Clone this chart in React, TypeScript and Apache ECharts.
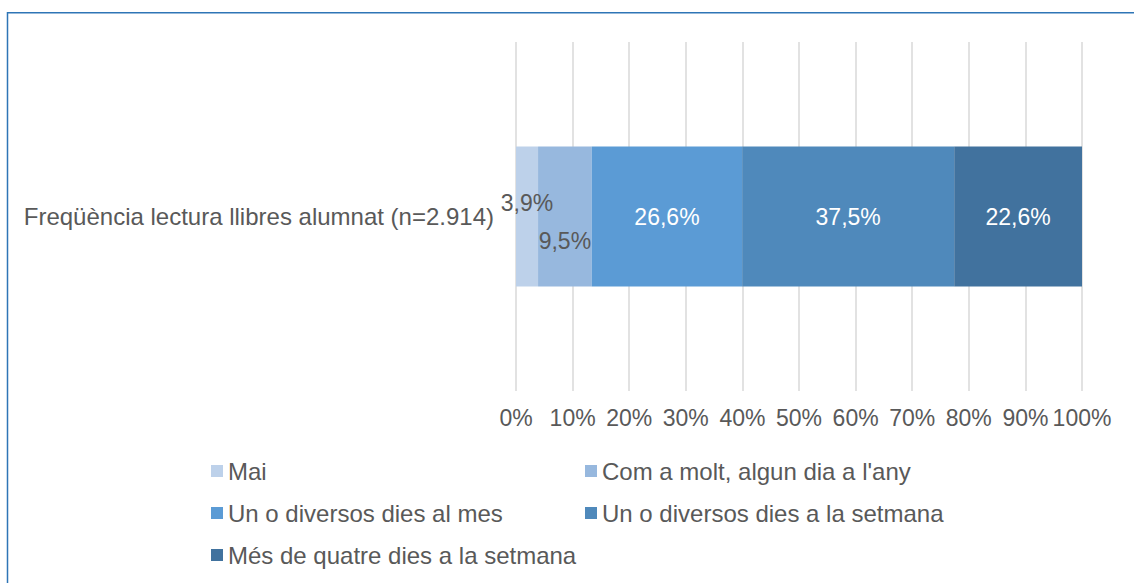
import React, { useEffect, useRef } from "react";
import * as echarts from "echarts";

const categories = ["Freqüència lectura llibres alumnat (n=2.914)"];
const seriesNames = [
  "Mai",
  "Com a molt, algun dia a l'any",
  "Un o diversos dies al mes",
  "Un o diversos dies a la setmana",
  "Més de quatre dies a la setmana",
];
const seriesValues = [3.9, 9.5, 26.6, 37.5, 22.6];

const colors = ["#BDD1EA", "#97B8DE", "#5B9BD5", "#4F89BB", "#41729E"];
const labelColors = ["#595959", "#595959", "#FFFFFF", "#FFFFFF", "#FFFFFF"];
const labelOffsets = [
  [0, -14],
  [0, 24],
  [0, 0],
  [0, 0],
  [0, 0],
];
const legendPos = [
  { left: 211, top: 459 },
  { left: 585, top: 459 },
  { left: 211, top: 501 },
  { left: 585, top: 501 },
  { left: 211, top: 543 },
];

const FONT = "'Liberation Sans', Arial, sans-serif";
const TEXT = "#595959";

export default function App() {
  const ref = useRef<HTMLDivElement>(null);
  useEffect(() => {
    if (!ref.current) return;
    const chart = echarts.init(ref.current, undefined, { renderer: "svg" });
    const total = seriesValues.reduce((a, b) => a + b, 0);
    const fmt = (v: number) => v.toFixed(1).replace(".", ",") + "%";
    chart.setOption({
      animation: false,
      textStyle: { fontFamily: FONT },
      grid: { left: 516, right: 52, top: 42, bottom: 192, containLabel: false },
      xAxis: {
        type: "value",
        min: 0,
        max: 100,
        interval: 10,
        axisLine: { show: false },
        axisTick: { show: false },
        splitLine: { lineStyle: { color: "#D9D9D9", width: 1.5 } },
        axisLabel: {
          formatter: "{value}%",
          fontSize: 23,
          color: TEXT,
          fontFamily: FONT,
          margin: 15,
          showMaxLabel: true,
          showMinLabel: true,
        },
      },
      yAxis: {
        type: "category",
        data: categories,
        axisLine: { show: false },
        axisTick: { show: false },
        axisLabel: { fontSize: 24, color: TEXT, fontFamily: FONT, margin: 22 },
      },
      legend: seriesNames.map((name, i) => ({
        data: [name],
        left: legendPos[i].left,
        top: legendPos[i].top,
        padding: 0,
        itemWidth: 12,
        itemHeight: 12,
        icon: "rect",
        selectedMode: false,
        textStyle: { fontSize: 24, color: TEXT, fontFamily: FONT },
      })),
      series: seriesNames.map((name, i) => ({
        name,
        type: "bar",
        stack: "total",
        barWidth: 140,
        itemStyle: { color: colors[i] },
        label: {
          show: true,
          position: "inside",
          offset: labelOffsets[i],
          color: labelColors[i],
          fontSize: 23,
          fontFamily: FONT,
          formatter: () => fmt(seriesValues[i]),
        },
        data: [(seriesValues[i] / total) * 100],
      })),
      graphic: [
        {
          type: "rect",
          silent: true,
          shape: { x: 7.5, y: 12.75, width: 2000, height: 2000 },
          style: { fill: "none", stroke: "#2E75B6", lineWidth: 1.5 },
        },
      ],
    });
    return () => chart.dispose();
  }, []);
  return (
    <div
      ref={ref}
      style={{ position: "absolute", left: 0, top: 0, width: 1134, height: 583, background: "#fff" }}
    />
  );
}
